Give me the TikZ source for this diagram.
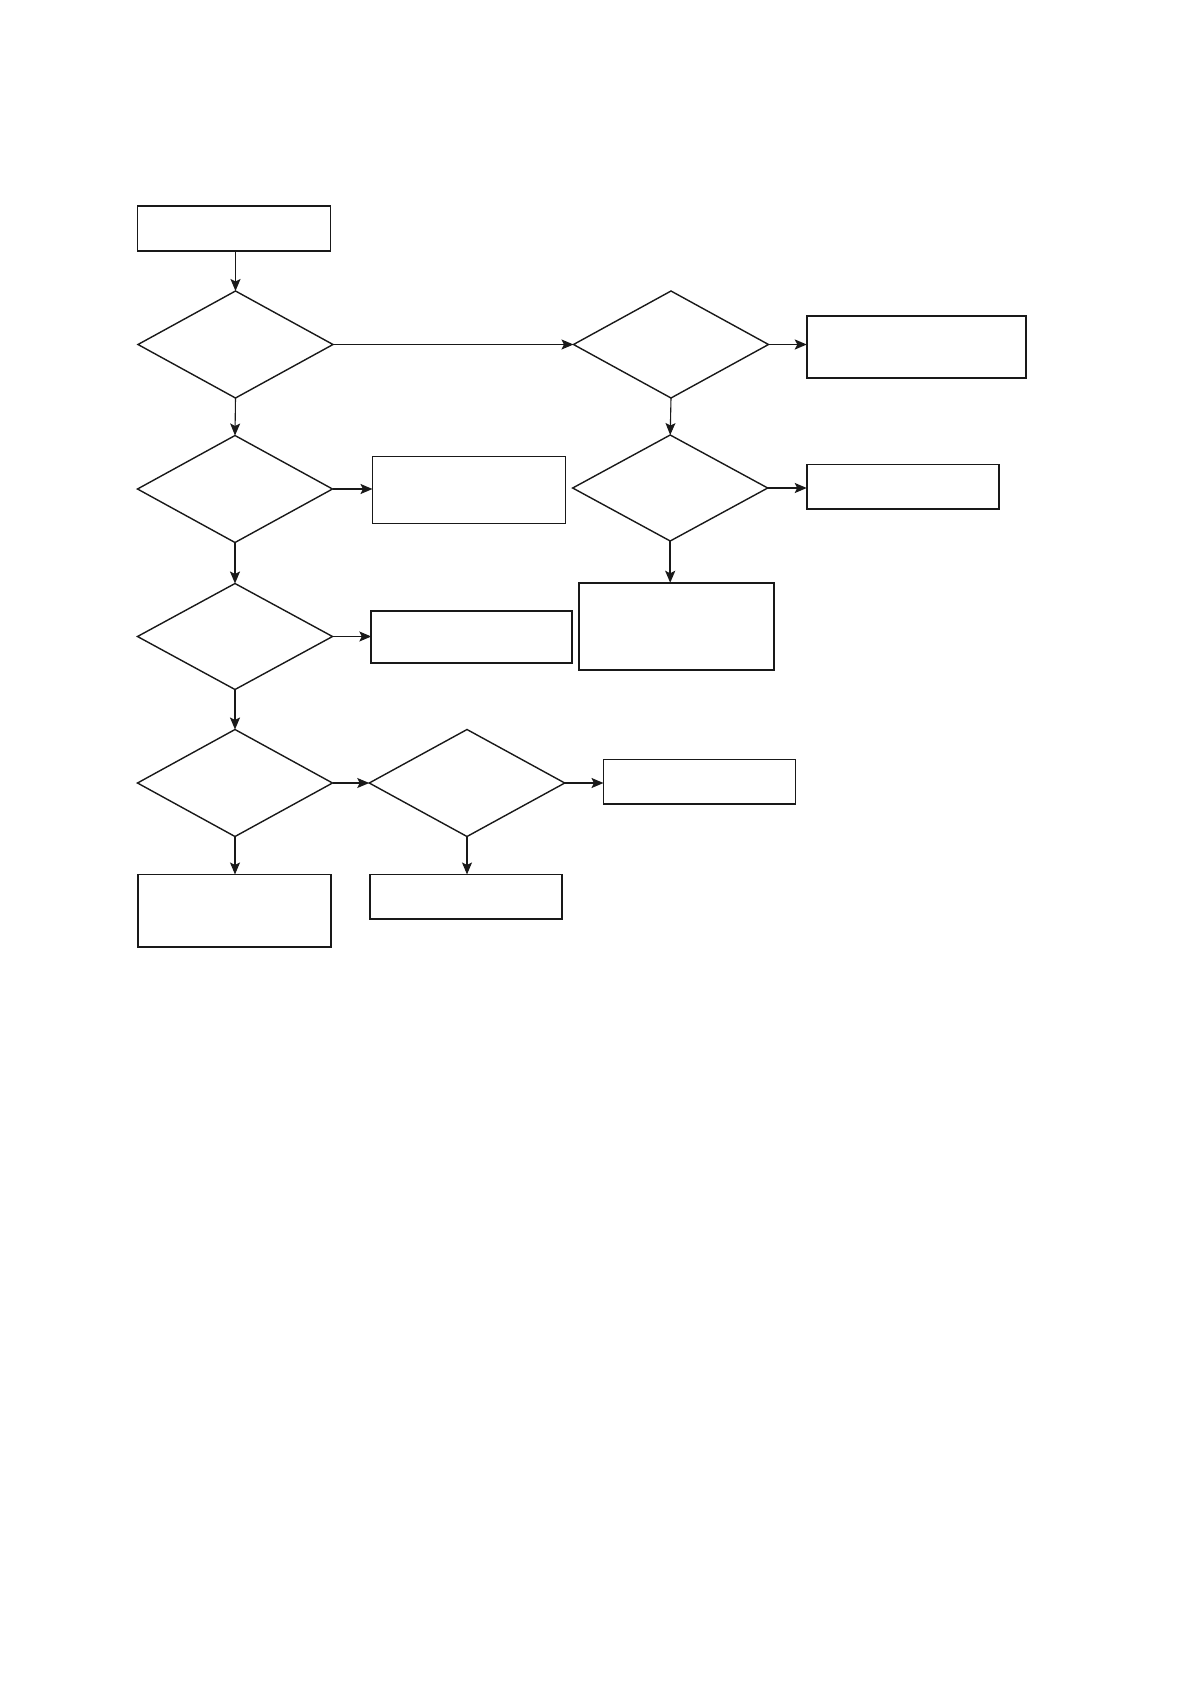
\documentclass[tikz,border=0pt]{standalone}
\usetikzlibrary{shapes.geometric,arrows.meta}
\tikzset{
  boxnode/.style={draw=black!90, line width=1.9pt, rectangle, inner sep=0pt, outer sep=0pt},
  dianode/.style={draw=black!90, line width=1.4pt, diamond, inner sep=0pt, outer sep=0pt, shape aspect=1.8},
  thinarrow/.style={draw=black!90, line width=1.1pt, -{Stealth[length=12pt,width=10pt,inset=2.5pt]}},
  thickarrow/.style={draw=black!90, line width=1.9pt, -{Stealth[length=12pt,width=10pt,inset=2.5pt]}}
}
\begin{document}
\begin{tikzpicture}[x=1pt,y=-1pt]
\useasboundingbox (0,0) rectangle (1192,1684);
\fill[white] (0,0) rectangle (1192,1684);
% left column
\node[boxnode, minimum width=193pt, minimum height=45pt] (start) at (234,228.5) {};
\node[dianode, minimum width=195pt, minimum height=107pt] (d1) at (235.5,344.5) {};
\node[dianode, minimum width=195pt, minimum height=107pt] (d2) at (235,489) {};
\node[boxnode, minimum width=193pt, minimum height=67pt] (b2) at (469,490) {};
\node[dianode, minimum width=195pt, minimum height=106pt] (d3) at (235,636.5) {};
\node[boxnode, minimum width=201pt, minimum height=52pt] (b3) at (471.8,636.8) {};
\node[dianode, minimum width=195pt, minimum height=107pt] (d4) at (235,783) {};
\node[dianode, minimum width=195.5pt, minimum height=107pt] (d5) at (467,783) {};
\node[boxnode, minimum width=192pt, minimum height=44.5pt] (b6) at (699.5,781.7) {};
\node[boxnode, minimum width=193pt, minimum height=72.5pt] (b4) at (234.8,910.7) {};
\node[boxnode, minimum width=192.5pt, minimum height=44.5pt] (b5) at (466,896.7) {};
% right column
\node[dianode, minimum width=195pt, minimum height=107pt] (r1) at (671,344.5) {};
\node[boxnode, minimum width=219pt, minimum height=62pt] (rb1) at (916.3,346.8) {};
\node[dianode, minimum width=195pt, minimum height=106pt] (r2) at (670.2,488) {};
\node[boxnode, minimum width=192.5pt, minimum height=44.5pt] (rb2) at (903,486.7) {};
\node[boxnode, minimum width=195pt, minimum height=87pt] (rb3) at (676.8,626.3) {};
% connectors
\draw[thickarrow] (start.south -| d1.north) -- (d1.north);
\draw[thinarrow] (d1.south) -- (d2.north);
\draw[thinarrow] (d1.east) -- (r1.west);
\draw[thickarrow] (d2.east) -- (d2.east -| b2.west);
\draw[thickarrow] (d2.south) -- (d3.north);
\draw[thinarrow] (d3.east) -- (d3.east -| b3.west);
\draw[thickarrow] (d3.south) -- (d4.north);
\draw[thinarrow] (d4.east) -- (d5.west);
\draw[thinarrow] (d4.south) -- (d4.south |- b4.north);
\draw[thinarrow] (d5.south) -- (d5.south |- b5.north);
\draw[thickarrow] (d5.east) -- (d5.east -| b6.west);
\draw[thickarrow] (r1.east) -- (r1.east -| rb1.west);
\draw[thinarrow] (r1.south) -- (r2.north);
\draw[thickarrow] (r2.east) -- (r2.east -| rb2.west);
\draw[thickarrow] (r2.south) -- (r2.south |- rb3.north);
\end{tikzpicture}
\end{document}
